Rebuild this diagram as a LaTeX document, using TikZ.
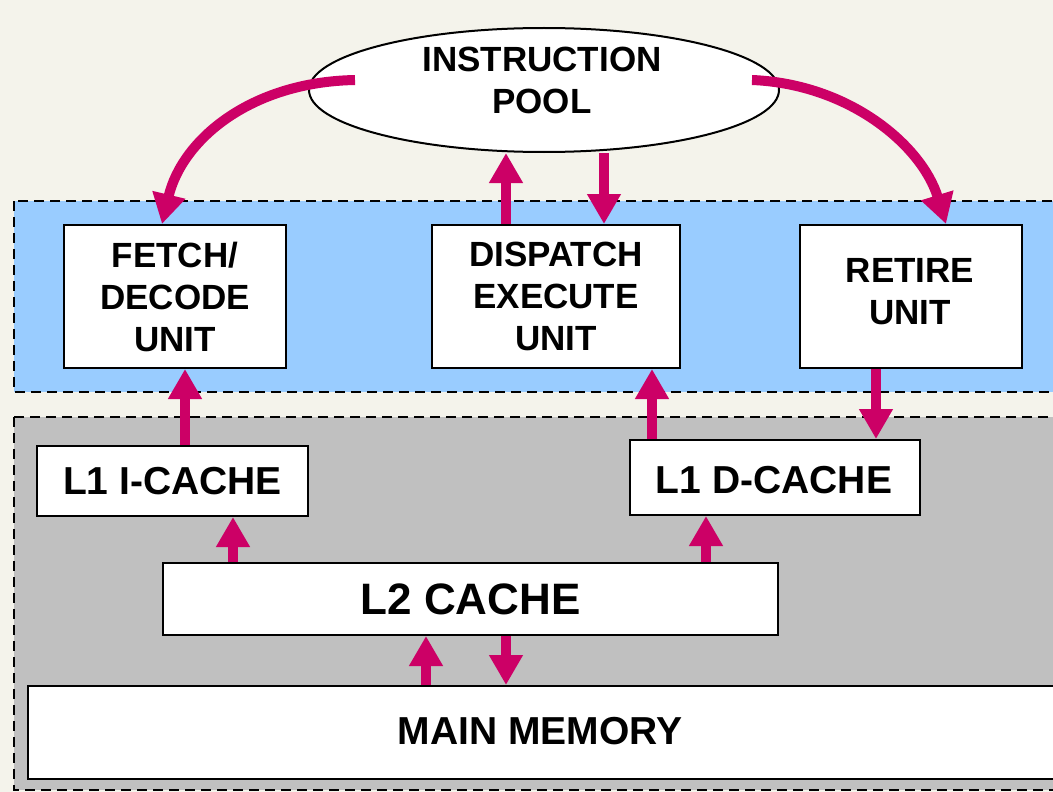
\documentclass[tikz,border=0pt]{standalone}
\usepackage{fontspec}
\setmainfont{Liberation Sans}
\usetikzlibrary{arrows.meta,shapes.geometric}
\definecolor{bgbeige}{HTML}{F4F3EB}
\definecolor{cpublue}{HTML}{99CCFF}
\definecolor{memgray}{HTML}{C0C0C0}
\definecolor{flow}{HTML}{CC0066}
\tikzset{
  unitbox/.style={draw=black, line width=2pt, fill=white, align=center,
    inner sep=0pt, font=\fontsize{35}{42}\selectfont\bfseries},
  cachebox/.style={unitbox, font=\fontsize{39}{46}\selectfont\bfseries},
  zone/.style={draw=black, line width=2.4pt, dash pattern=on 10pt off 6pt},
  arr/.style={draw=flow, line width=10pt,
    -{Triangle[width=32pt,length=30pt]}},
}
\begin{document}
\begin{tikzpicture}[x=1pt,y=-1pt]
  \useasboundingbox (0,0) rectangle (1053,792);
  \clip (0,0) rectangle (1053,792);
  \fill[bgbeige] (0,0) rectangle (1053,792);

  % processor and memory zones
  \filldraw[zone, fill=cpublue] (14,201) rectangle (1070,392);
  \filldraw[zone, fill=memgray] (14,417) rectangle (1070,790);

  % instruction pool
  \node[ellipse, draw=black, line width=2pt, fill=white, minimum width=470pt,
        minimum height=124pt, inner sep=0pt] (pool) at (544,90) {};
  \node[align=center, font=\fontsize{35}{42}\selectfont\bfseries] (poollabel)
        at (542,80) {INSTRUCTION\\POOL};

  % execution units
  \node[unitbox, minimum width=222pt, minimum height=143pt] (fetch) at (175,296.5)
        {FETCH/\\DECODE\\UNIT};
  \node[unitbox, minimum width=248pt, minimum height=143pt] (disp) at (556,296.5)
        {DISPATCH\\EXECUTE\\UNIT};
  \node[unitbox, minimum width=222pt, minimum height=143pt] (retire) at (911,296.5)
        {};
  \node[align=center, font=\fontsize{35}{42}\selectfont\bfseries] (retirelabel)
        at (910,292) {RETIRE\\UNIT};

  % cache hierarchy
  \node[cachebox, minimum width=271pt, minimum height=70pt] (l1i) at (172.5,481)
        {L1 I-CACHE};
  \node[cachebox, minimum width=290pt, minimum height=75pt] (l1d) at (775,477.5)
        {};
  \node[font=\fontsize{39}{46}\selectfont\bfseries] (l1dlabel) at (774,480)
        {L1 D-CACHE};
  \node[cachebox, minimum width=615pt, minimum height=72pt,
        font=\fontsize{44}{50}\selectfont\bfseries] (l2) at (470.5,599)
        {L2 CACHE};
  \node[cachebox, minimum width=1060pt, minimum height=93pt, anchor=west] (mem)
        at (27,732.5) {};
  \node[font=\fontsize{39}{46}\selectfont\bfseries] (memlabel) at (540,731)
        {MAIN MEMORY};

  % pool <-> units
  \coordinate (poolL) at (355,80);
  \coordinate (poolR) at (752,80);
  \draw[arr] (poolL) .. controls (250,82) and (182,140) .. ([xshift=-13pt]fetch.north);
  \draw[arr] (poolR) .. controls (850,84) and (922,146) .. ([xshift=35pt]retire.north);
  \draw[arr] ([xshift=-50pt]disp.north) -- ([xshift=-50pt]disp.north |- pool.south);
  \draw[arr] ([xshift=48pt]disp.north |- pool.south) -- ([xshift=48pt]disp.north);

  % caches <-> units
  \draw[arr] ([xshift=12.5pt]l1i.north) -- ([xshift=12.5pt]l1i.north |- fetch.south);
  \draw[arr] ([xshift=-123pt]l1d.north) -- ([xshift=-123pt]l1d.north |- disp.south);
  \draw[arr] ([xshift=-35pt]retire.south) -- ([xshift=-35pt]retire.south |- l1d.north);

  % L2 <-> L1
  \draw[arr] ([xshift=-237.5pt]l2.north) -- ([xshift=-237.5pt]l2.north |- l1i.south);
  \draw[arr] ([xshift=235.5pt]l2.north) -- ([xshift=235.5pt]l2.north |- l1d.south);

  % memory <-> L2
  \draw[arr] ([xshift=-44.5pt]l2.south |- mem.north) -- ([xshift=-44.5pt]l2.south);
  \draw[arr] ([xshift=35.5pt]l2.south) -- ([xshift=35.5pt]l2.south |- mem.north);
\end{tikzpicture}
\end{document}
